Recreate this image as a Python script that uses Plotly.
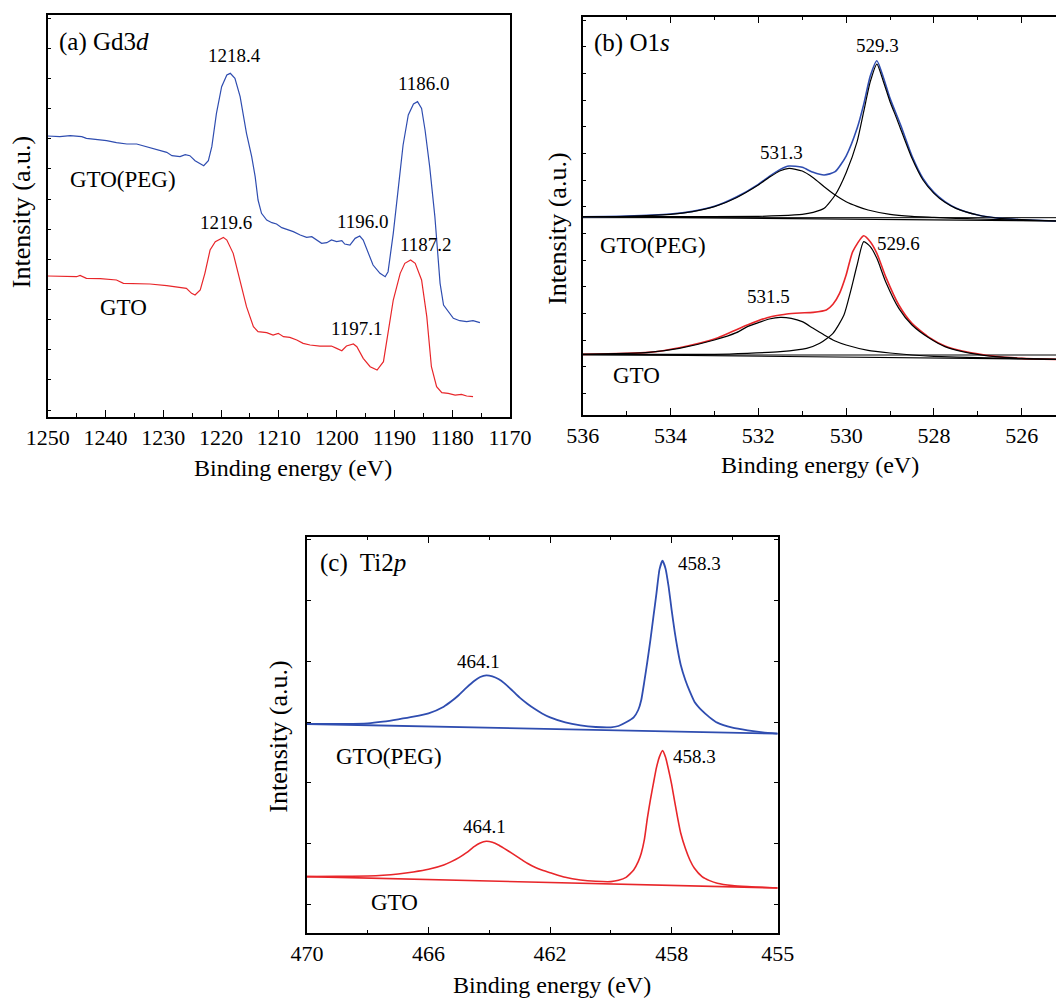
import plotly.graph_objects as go

W, H = 1056, 998
FONT = "Liberation Serif, Times New Roman, serif"
BLUE = "#2f4db0"
RED = "#e8262a"

# ---------------- (a) Gd3d ----------------
gd_peg_e = [1250.0, 1247.9, 1246.1, 1244.1, 1243.3, 1240.9, 1239.8, 1238.1, 1236.3, 1234.6,
            1232.9, 1230.6, 1229.4, 1228.5, 1227.1, 1226.2, 1225.4, 1224.5, 1223.6, 1223.0,
            1222.2, 1221.6, 1220.8, 1219.9, 1219.0, 1218.4, 1217.6, 1216.7, 1215.6, 1214.7,
            1214.1, 1213.6, 1213.0, 1212.1, 1211.2, 1210.4, 1209.5, 1208.7, 1207.5, 1206.3,
            1205.2, 1204.3, 1203.5, 1202.6, 1201.7, 1200.9, 1200.0, 1199.1, 1198.6, 1197.7,
            1196.8, 1196.0, 1195.4, 1194.5, 1193.7, 1192.5, 1191.6, 1191.1, 1190.2, 1189.3,
            1188.5, 1187.6, 1186.7, 1186.0, 1185.3, 1184.7, 1183.9, 1183.0, 1182.1, 1181.5,
            1180.7, 1179.8, 1178.7, 1177.5, 1176.4, 1175.2]
gd_peg_i = [842, 840, 843, 840, 835, 830, 828, 822, 818, 818,
            810, 800, 793, 783, 780, 786, 783, 768, 758, 753,
            768, 810, 910, 990, 1025, 1030, 1015, 960, 850, 780,
            720, 650, 610, 590, 582, 578, 567, 562, 555, 545,
            538, 540, 530, 520, 522, 530, 525, 528, 518, 515,
            535, 542, 530, 490, 455, 430, 420, 435, 550, 690,
            815, 905, 938, 945, 925, 860, 750, 600, 400, 335,
            315, 295, 288, 285, 288, 282]

gd_gto_e = [1250.0, 1247.9, 1245.0, 1244.4, 1243.3, 1240.9, 1238.1, 1236.9, 1234.6, 1232.3,
            1229.4, 1227.1, 1226.0, 1225.1, 1224.5, 1223.6, 1222.8, 1221.9, 1221.0, 1219.6,
            1219.0, 1217.9, 1216.7, 1215.6, 1214.4, 1213.6, 1212.1, 1211.0, 1210.1, 1209.2,
            1208.1, 1206.9, 1205.8, 1204.6, 1202.9, 1200.9, 1200.0, 1199.1, 1198.3, 1197.1,
            1196.5, 1195.4, 1194.2, 1193.0, 1191.9, 1191.1, 1190.2, 1189.0, 1188.2, 1187.2,
            1186.4, 1185.3, 1184.4, 1183.6, 1182.7, 1181.8, 1180.7, 1179.5, 1178.4, 1177.5,
            1176.4]
gd_gto_i = [422, 422, 420, 424, 415, 414, 410, 400, 400, 398,
            393, 388, 385, 370, 365, 380, 430, 500, 525, 538,
            530, 490, 410, 330, 270, 255, 252, 245, 250, 240,
            238, 230, 220, 215, 212, 212, 205, 198, 212, 218,
            210, 175, 150, 140, 165, 250, 350, 430, 460, 470,
            460, 410, 300, 150, 90, 72, 70, 65, 67, 62,
            60]

gd_peaks = [1218.4, 1186.0, 1219.6, 1196.0, 1187.2, 1197.1]

# ---------------- (b) O1s ----------------
o_base_e = [536, 525.22]
o_peg_base = [603, 590]
o_peg_level = [600, 600]
o_gto_base = [190, 175]
o_gto_level = [188, 188]

o_peg_env_e = [536, 535, 534, 533.5, 533, 532.5, 532, 531.75, 531.5, 531.3,
               531, 530.75, 530.5, 530.25, 530, 529.75, 529.6, 529.45, 529.3, 529.15,
               529, 528.75, 528.5, 528.25, 528, 527.75, 527.5, 527, 526.5, 526, 525.22]
o_peg_env_i = [603, 605, 611, 619, 634, 662, 700, 724, 745, 755,
               751, 736, 728, 738, 785, 868, 940, 1025, 1071, 1020,
               958, 875, 785, 718, 676, 648, 629, 608, 598, 594, 590]

o_peg_c1_e = [536, 535, 534, 533.5, 533, 532.5, 532, 531.75, 531.5, 531.3,
              531, 530.75, 530.5, 530.25, 530, 529.75, 529.5, 529, 528.5, 528,
              527.5, 527, 526, 525.22]
o_peg_c1_i = [603, 604, 610, 618, 633, 660, 698, 721, 741, 748,
              740, 720, 693, 668, 648, 634, 623, 610, 604, 601,
              598, 596, 592, 590]

o_peg_c2_e = [536, 534, 532, 531.5, 531, 530.75, 530.5, 530.25, 530, 529.75,
              529.6, 529.45, 529.3, 529.15, 529, 528.85, 528.75, 528.5, 528.25, 528,
              527.75, 527.5, 527, 526.5, 526, 525.22]
o_peg_c2_i = [603, 603, 604, 606, 610, 616, 628, 668, 735, 828,
              918, 1008, 1061, 1008, 948, 898, 863, 778, 713, 673,
              646, 628, 608, 598, 594, 590]

o_gto_env_e = [536, 534.5, 533.8, 533, 532.25, 531.8, 531.5, 531.35, 531.05, 530.75,
               530.45, 530.3, 530.15, 530, 529.85, 529.6, 529.45, 529.3, 529.1, 528.8,
               528.5, 528.1, 527.75, 527.35, 526.6, 526, 525.22]
o_gto_env_i = [190, 196, 210, 236, 278, 300, 308, 311, 314, 316,
               323, 340, 373, 428, 498, 546, 528, 493, 423, 338,
               283, 240, 215, 200, 184, 178, 175]

o_gto_c1_e = [536, 535, 534.5, 533.8, 533, 532.5, 532.25, 532, 531.75, 531.5,
              531.25, 531, 530.75, 530.5, 530.25, 530, 529.5, 529, 528.5, 528,
              527, 526, 525.22]
o_gto_c1_i = [190, 193, 196, 208, 233, 255, 273, 285, 296, 301,
              298, 288, 268, 248, 230, 218, 202, 194, 188, 184,
              180, 177, 175]

o_gto_c2_e = [536, 533, 532.25, 531.5, 530.9, 530.6, 530.3, 530.05, 529.9, 529.75,
              529.6, 529.45, 529.3, 529.1, 528.8, 528.5, 528.1, 527.75, 527.35, 526.6,
              526, 525.22]
o_gto_c2_i = [190, 190, 193, 198, 208, 223, 253, 308, 378, 458,
              528, 513, 478, 408, 328, 278, 238, 213, 198, 183,
              178, 175]

o_peaks = [529.3, 531.3, 529.6, 531.5]

# ---------------- (c) Ti2p ----------------
ti_e = [470, 469, 468, 467.5, 467, 466.5, 466, 465.5, 465.25, 465,
        464.75, 464.5, 464.3, 464.1, 463.9, 463.7, 463.5, 463.25, 463, 462.75,
        462.5, 462.25, 462, 461.5, 461, 460.5, 460, 459.75, 459.5, 459.25,
        459.1, 459.0, 458.9, 458.8, 458.7, 458.6, 458.5, 458.4, 458.3, 458.2,
        458.1, 458.0, 457.9, 457.8, 457.7, 457.55, 457.4, 457.25, 457.0, 456.75,
        456.5, 456.0, 455.5, 455.0, 454.51]
ti_peg_i = [628, 628, 630, 635, 642, 650, 660, 680, 696, 715,
            737, 757, 769, 774, 771, 763, 750, 729, 707, 689,
            673, 659, 648, 633, 624, 619, 618, 622, 633, 648,
            670, 700, 755, 815, 880, 950, 1020, 1092, 1118, 1094,
            1040, 970, 905, 850, 805, 760, 725, 695, 668, 648,
            632, 617, 609, 603, 599]
ti_gto_i = [170, 171, 172, 174, 178, 184, 192, 205, 215, 227,
            242, 260, 271, 276, 273, 265, 254, 240, 225, 210,
            198, 189, 182, 168, 160, 156, 155, 159, 168, 190,
            215, 240, 280, 345, 400, 450, 497, 530, 548, 528,
            490, 447, 395, 345, 300, 255, 220, 195, 170, 158,
            150, 143, 140, 138, 136]
ti_base_e = [470, 454.51]
ti_peg_base = [628, 599]
ti_gto_base = [170, 136]

ti_peaks = [458.3, 464.1, 458.3, 464.1]
ti_tickvals = [470, 466, 462, 458, 454.51]
ti_ticktext = ["470", "466", "462", "458", "455"]

fig = go.Figure()


def line(x, y, ax, color, width, shape="linear", smoothing=0.6):
    fig.add_trace(go.Scatter(
        x=x, y=y, mode="lines", xaxis="x" + ax, yaxis="y" + ax,
        line=dict(color=color, width=width, shape=shape, smoothing=smoothing),
        showlegend=False, hoverinfo="skip"))


# (a)
line(gd_peg_e, gd_peg_i, "", BLUE, 1.2)
line(gd_gto_e, gd_gto_i, "", RED, 1.2)

# (b)
for base, level, env_e, env_i, c1e, c1i, c2e, c2i, col in [
    (o_peg_base, o_peg_level, o_peg_env_e, o_peg_env_i, o_peg_c1_e, o_peg_c1_i,
     o_peg_c2_e, o_peg_c2_i, BLUE),
    (o_gto_base, o_gto_level, o_gto_env_e, o_gto_env_i, o_gto_c1_e, o_gto_c1_i,
     o_gto_c2_e, o_gto_c2_i, RED),
]:
    line(o_base_e, level, "2", "black", 1.0)
    line(o_base_e, base, "2", "black", 1.2)
    line(env_e, env_i, "2", col, 1.6, "spline")
    line(c1e, c1i, "2", "black", 1.2, "spline")
    line(c2e, c2i, "2", "black", 1.2, "spline")

# (c)
line(ti_base_e, ti_peg_base, "3", BLUE, 1.8)
line(ti_e, ti_peg_i, "3", BLUE, 1.8, "spline", 0.5)
line(ti_base_e, ti_gto_base, "3", RED, 1.6)
line(ti_e, ti_gto_i, "3", RED, 1.6, "spline", 0.5)


def xaxis(domain, rng, anchor, mirror, **kw):
    d = dict(domain=domain, range=rng, anchor=anchor, showline=True, linecolor="black",
             linewidth=1.5, mirror=mirror, ticks="inside", ticklen=7, tickwidth=1.3,
             tickcolor="black", showgrid=False, zeroline=False, automargin=False,
             tickfont=dict(family=FONT, size=22, color="black"))
    d.update(kw)
    return d


def yaxis(domain, rng, anchor, mirror, tick0, dtick):
    return dict(domain=domain, range=rng, anchor=anchor, showline=True, linecolor="black",
                linewidth=1.5, mirror=mirror, ticks="inside", ticklen=4, tickwidth=1.2,
                tickcolor="black", showgrid=False, zeroline=False, showticklabels=False,
                automargin=False, tickmode="linear", tick0=tick0, dtick=dtick)


def minor(**kw):
    d = dict(ticks="inside", ticklen=4, tickwidth=1.2, tickcolor="black", showgrid=False)
    d.update(kw)
    return d


def px_x(p):
    return p / W


def px_y(p):
    return 1 - p / H


fig.update_layout(
    template="none",
    width=W, height=H, autosize=False,
    margin=dict(l=0, r=0, t=0, b=0, pad=0, autoexpand=False),
    paper_bgcolor="white", plot_bgcolor="white", showlegend=False,
    xaxis=xaxis([px_x(47.7), px_x(510)], [1250, 1170], "y", True,
                tickmode="linear", tick0=1250, dtick=10, minor=minor(tick0=1250, dtick=5)),
    yaxis=yaxis([px_y(416.7), px_y(15)], [0, 1205], "x", True, 20, 90.4),
    xaxis2=xaxis([px_x(582.7), 1.0], [536, 525.22], "y2", "allticks",
                 tickmode="linear", tick0=536, dtick=2, minor=minor(tick0=536, dtick=1)),
    yaxis2=yaxis([px_y(415), px_y(16.7)], [8, 1203], "x2", False, 73, 80),
    xaxis3=xaxis([px_x(307), px_x(777.7)], [470, 454.51], "y3", "allticks",
                 tickmode="array", tickvals=ti_tickvals, ticktext=ti_ticktext,
                 minor=minor(tickmode="array", tickvals=[468, 464, 460, 456])),
    yaxis3=yaxis([px_y(933.3), px_y(536.7)], [0, 1190], "x3", "allticks", 85, 183),
)


def ann(text, x, y, size, xanchor="center", angle=0):
    fig.add_annotation(text=text, x=px_x(x), y=px_y(y), xref="paper", yref="paper",
                       xanchor=xanchor, yanchor="middle", showarrow=False, textangle=angle,
                       font=dict(family=FONT, size=size, color="black"))


# panel titles
ann("(a) Gd3<i>d</i>", 57, 42, 25, "left")
ann("(b) O1<i>s</i>", 591.7, 43.3, 25, "left")
ann("(c)  Ti2<i>p</i>", 318.3, 563.3, 25, "left")

# axis titles
for x, y in [(292.5, 467.5), (820, 465), (552, 985)]:
    ann("Binding energy (eV)", x, y, 24)
for x, y in [(21.7, 212.5), (556.8, 229), (279, 736.7)]:
    ann("Intensity (a.u.)", x, y, 26, angle=-90)

# sample names
for x, y in [(122.5, 180), (652.7, 245.7), (389, 756.7)]:
    ann("GTO(PEG)", x, y, 23)
for x, y in [(123, 307), (636.7, 375), (394, 902)]:
    ann("GTO", x, y, 23)

# peak positions
for v, (x, y) in zip(gd_peaks, [(234, 55), (424, 83), (226, 223), (363, 221), (426, 245), (357, 328)]):
    ann(f"{v:.1f}", x, y, 19)
for v, (x, y) in zip(o_peaks, [(877.7, 45.7), (781.7, 152.3), (898.3, 243.3), (768.3, 296.7)]):
    ann(f"{v:.1f}", x, y, 19)
for v, (x, y) in zip(ti_peaks, [(699.3, 563.3), (478.3, 661), (694.3, 756.7), (484, 826.7)]):
    ann(f"{v:.1f}", x, y, 19)

fig.write_html("out.html")
